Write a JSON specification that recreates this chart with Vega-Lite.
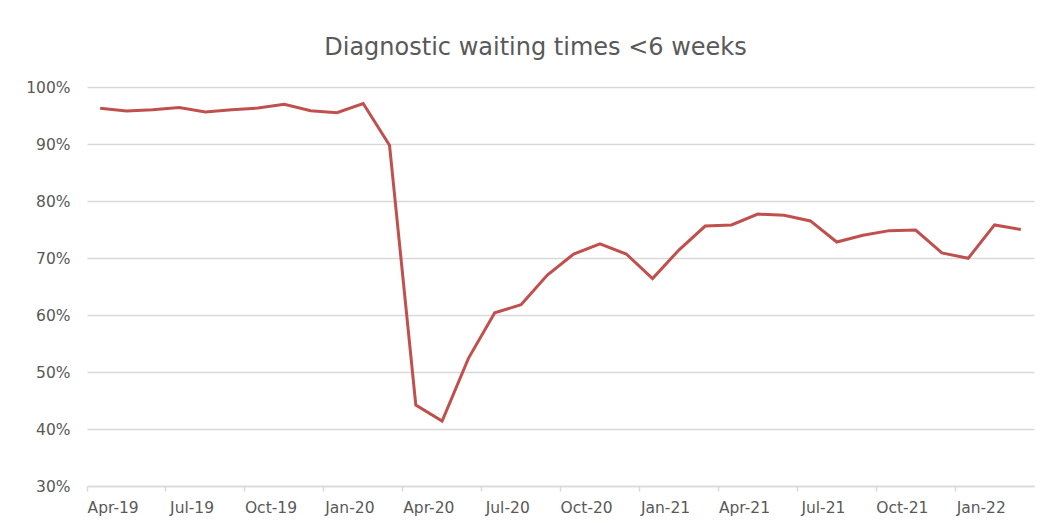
{
  "$schema": "https://vega.github.io/schema/vega-lite/v6.json",
  "autosize": {"type": "none"},
  "padding": {"left": 87, "top": 87, "right": 10, "bottom": 37},
  "width": 947,
  "height": 399,
  "background": "white",
  "config": {
    "view": {"stroke": null},
    "font": "DejaVu Sans"
  },
  "title": {
    "text": "Diagnostic waiting times <6 weeks",
    "font": "DejaVu Sans",
    "fontSize": 24,
    "fontWeight": "normal",
    "color": "#595959",
    "anchor": "middle",
    "frame": "group",
    "dx": -25,
    "offset": 20
  },
  "data": {
    "values": [
      {"month": "Apr-19", "pct": 0.9626},
      {"month": "May-19", "pct": 0.958},
      {"month": "Jun-19", "pct": 0.960},
      {"month": "Jul-19", "pct": 0.964},
      {"month": "Aug-19", "pct": 0.956},
      {"month": "Sep-19", "pct": 0.960},
      {"month": "Oct-19", "pct": 0.963},
      {"month": "Nov-19", "pct": 0.9695},
      {"month": "Dec-19", "pct": 0.9585},
      {"month": "Jan-20", "pct": 0.955},
      {"month": "Feb-20", "pct": 0.971},
      {"month": "Mar-20", "pct": 0.898},
      {"month": "Apr-20", "pct": 0.442},
      {"month": "May-20", "pct": 0.414},
      {"month": "Jun-20", "pct": 0.524},
      {"month": "Jul-20", "pct": 0.604},
      {"month": "Aug-20", "pct": 0.618},
      {"month": "Sep-20", "pct": 0.670},
      {"month": "Oct-20", "pct": 0.707},
      {"month": "Nov-20", "pct": 0.725},
      {"month": "Dec-20", "pct": 0.707},
      {"month": "Jan-21", "pct": 0.664},
      {"month": "Feb-21", "pct": 0.714},
      {"month": "Mar-21", "pct": 0.756},
      {"month": "Apr-21", "pct": 0.758},
      {"month": "May-21", "pct": 0.777},
      {"month": "Jun-21", "pct": 0.775},
      {"month": "Jul-21", "pct": 0.765},
      {"month": "Aug-21", "pct": 0.728},
      {"month": "Sep-21", "pct": 0.740},
      {"month": "Oct-21", "pct": 0.748},
      {"month": "Nov-21", "pct": 0.749},
      {"month": "Dec-21", "pct": 0.709},
      {"month": "Jan-22", "pct": 0.6995},
      {"month": "Feb-22", "pct": 0.758},
      {"month": "Mar-22", "pct": 0.750}
    ]
  },
  "mark": {"type": "line", "color": "#C0504D", "strokeWidth": 3, "strokeJoin": "miter"},
  "encoding": {
    "x": {
      "field": "month",
      "type": "ordinal",
      "sort": null,
      "scale": {"type": "band", "paddingInner": 0, "paddingOuter": 0},
      "axis": {
        "title": null,
        "values": ["Apr-19", "Jul-19", "Oct-19", "Jan-20", "Apr-20", "Jul-20", "Oct-20", "Jan-21", "Apr-21", "Jul-21", "Oct-21", "Jan-22"],
        "bandPosition": 0,
        "labelOffset": 13,
        "labelAngle": 0,
        "labelFontSize": 15.5,
        "labelColor": "#595959",
        "labelPadding": 9,
        "domainColor": "#d9d9d9",
        "domainWidth": 1.5,
        "tickColor": "#d9d9d9",
        "tickWidth": 1.5,
        "tickSize": 5,
        "grid": false
      }
    },
    "y": {
      "field": "pct",
      "type": "quantitative",
      "scale": {"domain": [0.3, 1.0], "nice": false, "zero": false},
      "axis": {
        "title": null,
        "values": [0.3, 0.4, 0.5, 0.6, 0.7, 0.8, 0.9, 1.0],
        "format": ".0%",
        "labelFontSize": 15.5,
        "labelColor": "#595959",
        "labelPadding": 17,
        "domain": false,
        "ticks": false,
        "gridColor": "#d9d9d9",
        "gridWidth": 1.5
      }
    }
  }
}
